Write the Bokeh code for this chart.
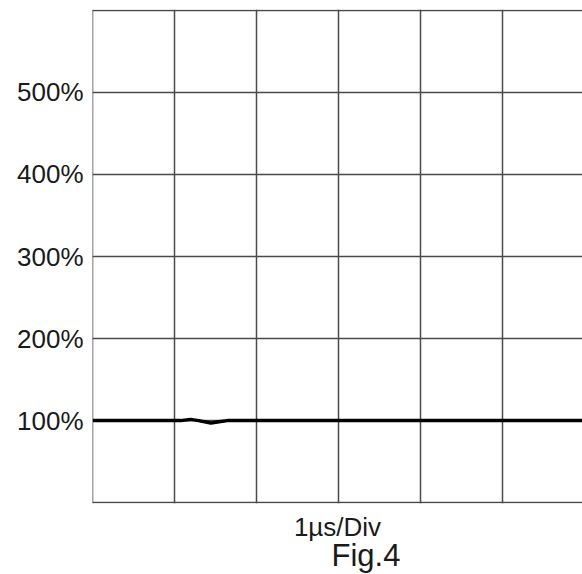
from bokeh.plotting import figure
from bokeh.models import FixedTicker, CustomJSTickFormatter, Title
from bokeh.embed import file_html
from bokeh.resources import INLINE

# Data (time in divisions, amplitude in %)
t_div = [0.0, 1.07, 1.19, 1.29, 1.44, 1.56, 1.64, 6.0]
amplitude = [100, 100, 101.5, 100, 97.0, 99.0, 100, 100]
y_ticks = [100, 200, 300, 400, 500]
x_grid = [0, 1, 2, 3, 4, 5, 6]
y_grid = [0, 100, 200, 300, 400, 500, 600]
x_title = "1µs/Div"
fig_title = "Fig.4"

FONT = "Liberation Sans"
GRID = "#4a4a4a"
TXT = "#1a1a1a"

p = figure(width=582, height=574, output_backend="svg", toolbar_location=None,
           x_range=(-0.006, 5.982), y_range=(-1, 601),
           min_border_left=92, min_border_right=0, min_border_top=9,
           min_border_bottom=71)
p.outline_line_color = None
p.background_fill_color = "white"
p.border_fill_color = "white"

xax = p.xaxis[0]
xax.ticker = FixedTicker(ticks=[])
xax.axis_line_color = None
xax.major_tick_line_color = None
xax.minor_tick_line_color = None
xax.major_label_text_font_size = "0px"
xax.major_tick_out = 0
xax.major_label_standoff = 0
xax.axis_label = x_title
xax.axis_label_standoff = 8
xax.axis_label_text_font = FONT
xax.axis_label_text_font_size = "26px"
xax.axis_label_text_font_style = "normal"
xax.axis_label_text_color = TXT

yax = p.yaxis[0]
yax.ticker = FixedTicker(ticks=y_ticks)
yax.formatter = CustomJSTickFormatter(code="return tick.toFixed(0) + '%';")
yax.axis_line_color = None
yax.major_tick_line_color = None
yax.minor_tick_line_color = None
yax.major_tick_out = 0
yax.major_label_standoff = 9
yax.major_label_text_font = FONT
yax.major_label_text_font_size = "26px"
yax.major_label_text_color = TXT

p.xgrid.ticker = FixedTicker(ticks=x_grid)
p.ygrid.ticker = FixedTicker(ticks=y_grid)
for g in (p.xgrid[0], p.ygrid[0]):
    g.grid_line_color = GRID
    g.grid_line_width = 1.5
    g.grid_line_alpha = 1.0

p.line(t_div, amplitude, line_color="black", line_width=3.5)

p.add_layout(Title(text=fig_title, align="left", offset=239, standoff=-17,
                   text_font=FONT, text_font_size="31px",
                   text_font_style="normal", text_color=TXT), "below")

open("out.html", "w").write(file_html(p, INLINE))
